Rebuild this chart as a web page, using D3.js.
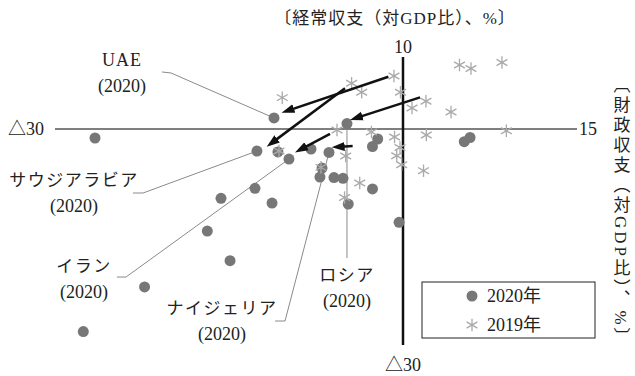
<!DOCTYPE html>
<html>
<head>
<meta charset="utf-8">
<script src="https://cdn.jsdelivr.net/npm/d3@7"></script>
<style>
  body { margin: 0; background: #fff; }
  svg { display: block; }
  text { font-family: "Liberation Serif", "Noto Sans CJK JP", serif; fill: #222; }
</style>
</head>
<body>
<svg id="chart" width="635" height="376"></svg>
<script>
// 2020 values (fiscal balance x, current account y), % of GDP
const pts2020X = [-26.55, -11.12, -12.59, -10.78, -9.83, -7.93, -6.38, -4.83, -6.98, -7.16,
  -5.95, -5.17, -2.18, -2.63, -2.63, -4.72, -12.76, -15.69, -11.29, -16.87,
  -14.91, -22.28, -27.56, -0.34, 5.28, 5.78];
const pts2020Y = [-1.25, 1.53, -3.06, -3.19, -4.17, -2.78, -3.26, 0.76, -5.42, -6.67,
  -6.74, -6.85, -1.39, -2.43, -8.33, -10.42, -8.24, -9.63, -10.28, -14.17,
  -18.29, -21.94, -28.13, -12.96, -1.76, -1.18];

// 2019 values
const pts2019X = [-10.41, -4.43, -3.56, -0.78, -0.22, 0.78, 1.98, 4.14, 4.87, 5.86,
  8.53, -5.69, -2.72, -0.73, 2.01, 8.91, -0.26, -0.54, -0.11, 1.77,
  -4.94, -3.73, -5.04, -10.69, -7.07];
const pts2019Y = [4.35, 6.35, 5.10, 7.36, 5.10, 2.92, 3.85, 2.36, 8.89, 8.40,
  9.24, -0.14, -0.42, -1.11, -0.83, -0.25, -2.57, -3.71, -4.96, -5.79,
  -3.75, -7.50, -9.51, -3.05, -5.33];

// arrows 2019 -> 2020 for the named countries
const arrowNames = ["UAE", "サウジアラビア", "イラン", "ナイジェリア", "ロシア"];
const arrowFromX = [-1.26, -5.0, -6.29, -4.34, 1.47];
const arrowFromY = [7.26, 5.65, -0.69, -2.36, 4.40];
const arrowToX = [-10.47, -11.75, -9.31, -6.15, -4.57];
const arrowToY = [2.26, -2.46, -3.25, -2.54, 1.25];

// callouts: label text, label anchor (data units), leader elbow, target 2020 point
const calloutNames = ["UAE", "サウジアラビア", "イラン", "ナイジェリア", "ロシア"];
const calloutSub = ["(2020)", "(2020)", "(2020)", "(2020)", "(2020)"];
const calloutLabelX = [-24.22, -28.36, -27.5, -15.6, -4.83];
const calloutLabelY = [8.75, -7.92, -19.86, -25.69, -21.11];
const calloutStartX = [-20.78, -23.28, -24.66, -11.03, -4.83];
const calloutStartY = [7.92, -8.89, -20.56, -26.67, -17.92];
const calloutElbowX = [-20.0, -22.41, -23.88, -10.17, null];
const calloutElbowY = [7.78, -8.89, -20.56, -26.67, null];
const calloutTarget = [1, 2, 4, 6, 7];

const legendLabels = ["2020年", "2019年"];

const svg = d3.select("#chart");

const x = d3.scaleLinear().domain([-30, 15]).range([55, 577]);
const y = d3.scaleLinear().domain([-30, 10]).range([345, 57]);

// axes (cross at origin)
svg.append("line")
  .attr("x1", x(-30)).attr("x2", x(15))
  .attr("y1", y(0)).attr("y2", y(0))
  .attr("stroke", "#555").attr("stroke-width", 1.5);
svg.append("line")
  .attr("x1", x(0)).attr("x2", x(0))
  .attr("y1", y(10)).attr("y2", y(-30))
  .attr("stroke", "#111").attr("stroke-width", 2.5);

// axis end labels
svg.append("text").attr("x", x(-30) - 11).attr("y", y(0) + 6)
  .attr("text-anchor", "end").style("font-size", "18px").text("△30");
svg.append("text").attr("x", x(15) + 2).attr("y", y(0) + 6)
  .attr("text-anchor", "start").style("font-size", "18px").text("15");
svg.append("text").attr("x", x(0)).attr("y", y(10) - 4)
  .attr("text-anchor", "middle").style("font-size", "18px").text("10");
svg.append("text").attr("x", x(0)).attr("y", y(-30) + 26)
  .attr("text-anchor", "middle").style("font-size", "18px").text("△30");

// axis titles
svg.append("text").attr("x", 395).attr("y", 24)
  .attr("text-anchor", "middle").style("font-size", "17px")
  .style("letter-spacing", "1px")
  .text("〔経常収支（対GDP比）、%〕");
svg.append("text").attr("x", 620).attr("y", 76)
  .style("writing-mode", "vertical-rl")
  .style("text-orientation", "mixed")
  .style("font-size", "17px")
  .style("letter-spacing", "3px")
  .text("〔財政収支（対GDP比）、%〕");

// leader lines
const leader = d3.line();
calloutNames.forEach((name, i) => {
  const pts = [[x(calloutStartX[i]), y(calloutStartY[i])]];
  if (calloutElbowX[i] !== null) pts.push([x(calloutElbowX[i]), y(calloutElbowY[i])]);
  pts.push([x(pts2020X[calloutTarget[i]]), y(pts2020Y[calloutTarget[i]])]);
  svg.append("path").attr("d", leader(pts))
    .attr("fill", "none").attr("stroke", "#8a8a8a").attr("stroke-width", 1);
});

// 2020 points
svg.append("g").selectAll("circle")
  .data(pts2020X.map((v, i) => [v, pts2020Y[i]]))
  .join("circle")
  .attr("cx", (d) => x(d[0]))
  .attr("cy", (d) => y(d[1]))
  .attr("r", 5.5)
  .attr("fill", "#777");

// 2019 points
const star = d3.symbol().type(d3.symbolAsterisk).size(110);
svg.append("g").selectAll("path")
  .data(pts2019X.map((v, i) => [v, pts2019Y[i]]))
  .join("path")
  .attr("d", star)
  .attr("transform", (d) => `translate(${x(d[0])},${y(d[1])})`)
  .attr("fill", "none")
  .attr("stroke", "#aaa")
  .attr("stroke-width", 1.3);

// arrows
svg.append("defs").append("marker")
  .attr("id", "head")
  .attr("markerUnits", "userSpaceOnUse")
  .attr("markerWidth", 16).attr("markerHeight", 12)
  .attr("viewBox", "0 -6 16 12")
  .attr("refX", 7).attr("refY", 0)
  .attr("orient", "auto")
  .append("path").attr("d", "M0,-4.5L13,0L0,4.5Z").attr("fill", "#111");

arrowNames.forEach((name, i) => {
  const x1 = x(arrowFromX[i]), y1 = y(arrowFromY[i]);
  const x2 = x(arrowToX[i]), y2 = y(arrowToY[i]);
  const len = Math.hypot(x2 - x1, y2 - y1);
  const k = (len - 6) / len;
  svg.append("line")
    .attr("x1", x1).attr("y1", y1)
    .attr("x2", x1 + (x2 - x1) * k).attr("y2", y1 + (y2 - y1) * k)
    .attr("stroke", "#111").attr("stroke-width", 2.5)
    .attr("marker-end", "url(#head)");
});

// callout labels
calloutNames.forEach((name, i) => {
  const t = svg.append("text")
    .attr("x", x(calloutLabelX[i])).attr("y", y(calloutLabelY[i]))
    .attr("text-anchor", "middle").style("font-size", "17px");
  t.append("tspan").attr("x", x(calloutLabelX[i]))
    .style("letter-spacing", name === "UAE" ? "1px" : "1.5px")
    .style("font-size", name === "UAE" ? "18px" : "17px")
    .text(name);
  t.append("tspan").attr("x", x(calloutLabelX[i])).attr("dy", 26)
    .style("font-size", "18px").text(calloutSub[i]);
});

// legend
const lg = svg.append("g").attr("transform", "translate(422,282)");
lg.append("rect").attr("width", 173).attr("height", 56)
  .attr("fill", "#fff").attr("stroke", "#222").attr("stroke-width", 1);
lg.append("circle").attr("cx", 50).attr("cy", 14).attr("r", 5.5).attr("fill", "#777");
lg.append("path").attr("d", star).attr("transform", "translate(50,43)")
  .attr("fill", "none").attr("stroke", "#aaa").attr("stroke-width", 1.3);
lg.selectAll("text.lab").data(legendLabels).join("text").attr("class", "lab")
  .attr("x", 65).attr("y", (d, i) => 20 + i * 29)
  .style("font-size", "18px").text((d) => d);
</script>
</body>
</html>
